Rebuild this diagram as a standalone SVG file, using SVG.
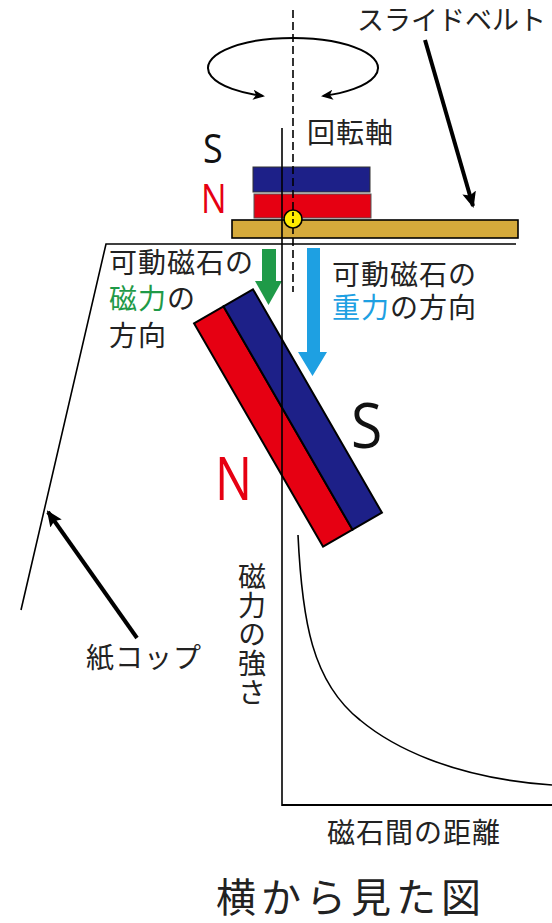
<svg xmlns="http://www.w3.org/2000/svg" width="552" height="923" viewBox="0 0 552 923">
  <defs>
    <marker id="headThin" viewBox="0 0 12 10" refX="10" refY="5" markerWidth="12" markerHeight="10" markerUnits="userSpaceOnUse" orient="auto-start-reverse">
      <path d="M0,0 L12,5 L0,10 L3,5 z" fill="#000"/>
    </marker>
    <marker id="headBold" viewBox="0 0 16 14" refX="14" refY="7" markerWidth="16" markerHeight="14" markerUnits="userSpaceOnUse" orient="auto">
      <path d="M0,0 L16,7 L0,14 L3,7 z" fill="#000"/>
    </marker>
    <style>
      .jp { font-family: "Noto Sans CJK JP", "Noto Sans", sans-serif; font-size: 28px; fill: #222; letter-spacing: 1px; }
      .pole { font-family: "Open Sans", "Liberation Sans", sans-serif; }
      .ln { fill: none; stroke: #000; stroke-width: 1.6; }
      .bold { fill: none; stroke: #000; stroke-width: 4; }
      .mag { stroke: #000; stroke-width: 2; }
      .red { fill: #e60012; }
      .navy { fill: #1d2088; }
    </style>
  </defs>

  <rect width="552" height="923" fill="#fff"/>

  <!-- paper cup outline -->
  <g id="cup">
    <path class="ln" d="M516,244 L106,244 L21,610"/>
  </g>

  <!-- slide belt with the fixed magnet on top -->
  <g id="belt">
    <rect x="232" y="220" width="286" height="18" fill="#d5aa3b" stroke="#000" stroke-width="1.6"/>
  </g>
  <g id="fixed-magnet">
    <rect x="253" y="167" width="117" height="25" class="navy" stroke="#333" stroke-width="1"/>
    <rect x="254" y="194" width="117" height="24" class="red" stroke="#555" stroke-width="1"/>
    <text class="pole" font-size="40" fill="#111" transform="translate(203,163) scale(0.9,1)">S</text>
    <text class="pole" font-size="40" fill="#e60012" transform="translate(201,213) scale(0.85,1)">N</text>
  </g>

  <!-- tilted moving magnet -->
  <g id="moving-magnet">
    <g transform="translate(288,418) rotate(-30)">
      <rect x="-34" y="-129" width="34" height="258" class="red mag"/>
      <rect x="0" y="-129" width="34" height="258" class="navy mag"/>
    </g>
    <text class="pole" font-size="62" fill="#111" transform="translate(351,448) scale(0.92,1)">S</text>
    <text class="pole" font-size="60" fill="#e60012" transform="translate(215,500) scale(0.82,1)">N</text>
  </g>

  <!-- force direction arrows -->
  <g id="magnetic-force">
    <path d="M262,249 H276 V281 H282 L268.5,305 L255,281 H262 Z" fill="#1f9a48"/>
    <text class="jp" x="109" y="273">可動磁石の</text>
    <text class="jp" x="109" y="309"><tspan fill="#1f9a48">磁力</tspan>の</text>
    <text class="jp" x="109" y="346">方向</text>
  </g>
  <g id="gravity">
    <path d="M307,248 H320 V352 H327 L312.5,376 L298,352 H307 Z" fill="#1ea0e2"/>
    <text class="jp" x="332" y="285">可動磁石の</text>
    <text class="jp" x="332" y="318"><tspan fill="#1ea0e2">重力</tspan>の方向</text>
  </g>

  <!-- rotation axis -->
  <g id="axis">
    <path d="M263,96 A85,30 0 1 1 323,96" fill="none" stroke="#000" stroke-width="2" marker-start="url(#headThin)" marker-end="url(#headThin)"/>
    <text class="jp" x="307" y="143">回転軸</text>
  </g>

  <!-- graph of magnetic force vs. distance -->
  <g id="graph">
    <path d="M298,535 C302,620 312,682 360,720 C390,745 450,778 552,785" class="ln"/>
    <path d="M282,805 H552" fill="none" stroke="#000" stroke-width="2"/>
    <text class="jp" x="252" y="562" style="writing-mode: vertical-rl;">磁力の強さ</text>
    <text class="jp" x="327" y="843">磁石間の距離</text>
  </g>

  <!-- labels with pointer arrows -->
  <g id="connectors">
    <line class="bold" x1="425" y1="40" x2="473" y2="206" marker-end="url(#headBold)"/>
    <line class="bold" x1="137" y1="638" x2="48" y2="512" marker-end="url(#headBold)"/>
  </g>
  <g id="belt-label">
    <text class="jp" x="357" y="30" style="font-size:27px; letter-spacing:0">スライドベルト</text>
  </g>
  <g id="cup-label">
    <text class="jp" x="86" y="668">紙コップ</text>
  </g>

  <!-- reference lines drawn over the magnets -->
  <g id="center-lines">
    <line x1="282" y1="128" x2="282" y2="806" stroke="#000" stroke-width="1.6"/>
    <line x1="293" y1="10" x2="293" y2="292" stroke="#000" stroke-width="1.6" stroke-dasharray="8,4"/>
    <circle cx="293" cy="219" r="9" fill="#ffec00" stroke="#000" stroke-width="1.6"/>
    <line x1="293" y1="212" x2="293" y2="226" stroke="#000" stroke-width="1.6" stroke-dasharray="4,3"/>
  </g>

  <text x="216" y="912" font-family="Noto Sans CJK JP, sans-serif" font-size="40" fill="#222" letter-spacing="5">横から見た図</text>
</svg>
